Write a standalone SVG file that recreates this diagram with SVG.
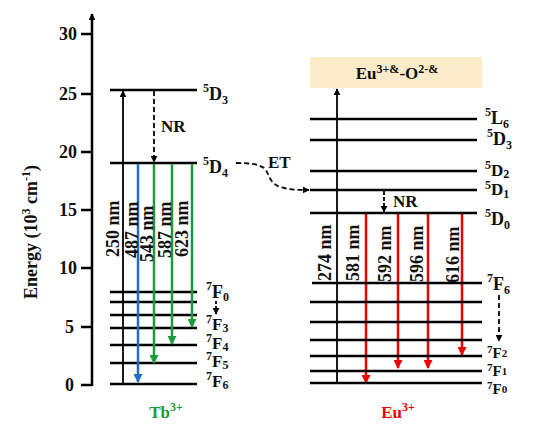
<svg xmlns="http://www.w3.org/2000/svg" width="553" height="437" viewBox="0 0 553 437">
<style>
text{font-family:"Liberation Serif","Times New Roman",serif;font-weight:bold;fill:#111}
.t{font-size:18px}
.s{font-size:12px}
.rot{font-size:18px}
.lv{stroke:#000;stroke-width:2.5;fill:none}
.ax{stroke:#000;stroke-width:2.5;fill:none}
.ex{stroke:#000;stroke-width:1.8;fill:none}
.dash{stroke:#000;stroke-width:1.8;fill:none;stroke-dasharray:5 3}
.bl{stroke:#1f6fc4;stroke-width:2.5;fill:none}
.gr{stroke:#1c9b3c;stroke-width:2.5;fill:none}
.rd{stroke:#ee0000;stroke-width:2.5;fill:none}
</style>
<defs>
<marker id="ak" viewBox="0 0 10 10" refX="9" refY="5" markerWidth="7" markerHeight="7" markerUnits="userSpaceOnUse" orient="auto"><path d="M0,0L10,5L0,10z" fill="#000"/></marker>
<marker id="ab" viewBox="0 0 10 10" refX="9" refY="5" markerWidth="10" markerHeight="9" markerUnits="userSpaceOnUse" orient="auto"><path d="M0,0L10,5L0,10z" fill="#1f6fc4"/></marker>
<marker id="ag" viewBox="0 0 10 10" refX="9" refY="5" markerWidth="10" markerHeight="9" markerUnits="userSpaceOnUse" orient="auto"><path d="M0,0L10,5L0,10z" fill="#1c9b3c"/></marker>
<marker id="ar" viewBox="0 0 10 10" refX="9" refY="5" markerWidth="10" markerHeight="9" markerUnits="userSpaceOnUse" orient="auto"><path d="M0,0L10,5L0,10z" fill="#ee0000"/></marker>
</defs>
<rect width="553" height="437" fill="#fff"/>

<g id="axis">
<line class="ax" x1="92" y1="386" x2="92" y2="14" marker-end="url(#ak)"/>
<path class="ax" d="M81,34H92M81,94H92M81,152H92M81,210H92M81,268H92M81,327H92M81,385H92"/>
<g class="t" text-anchor="end">
<text x="77" y="40">30</text><text x="77" y="100">25</text><text x="77" y="158">20</text><text x="77" y="216">15</text><text x="77" y="274">10</text><text x="74" y="333">5</text><text x="74" y="391">0</text>
</g>
<text class="t" transform="translate(37,232) rotate(-90)" text-anchor="middle">Energy (10<tspan class="s" dy="-7">3</tspan><tspan dy="7"> cm</tspan><tspan class="s" dy="-7">-1</tspan><tspan dy="7">)</tspan></text>
</g>

<g id="tb-levels">
<path class="lv" d="M110,90H197M110,163H197M110,292H197M110,302H197M110,315H197M110,328H197M110,345H197M110,363H197M110,384H197"/>
</g>
<g id="tb-labels" class="t">
<text x="203" y="100"><tspan class="s" dy="-8">5</tspan><tspan dy="8">D</tspan><tspan class="s" dy="4">3</tspan></text>
<text x="203" y="173"><tspan class="s" dy="-8">5</tspan><tspan dy="8">D</tspan><tspan class="s" dy="4">4</tspan></text>
<text x="206" y="298"><tspan class="s" dy="-8">7</tspan><tspan dy="8">F</tspan><tspan class="s" dy="3">0</tspan></text>
<text x="206" y="330" style="font-size:17px"><tspan class="s" dy="-7">7</tspan><tspan dy="7">F</tspan><tspan class="s" dy="2">3</tspan></text>
<text x="206" y="349" style="font-size:17px"><tspan class="s" dy="-7">7</tspan><tspan dy="7">F</tspan><tspan class="s" dy="2">4</tspan></text>
<text x="206" y="367" style="font-size:17px"><tspan class="s" dy="-7">7</tspan><tspan dy="7">F</tspan><tspan class="s" dy="2">5</tspan></text>
<text x="206" y="387" style="font-size:17px"><tspan class="s" dy="-7">7</tspan><tspan dy="7">F</tspan><tspan class="s" dy="2">6</tspan></text>
<text x="161" y="132" style="font-size:17px">NR</text>
<text x="166" y="418" text-anchor="middle" style="fill:#1c9b3c;font-size:17px">Tb<tspan class="s" dy="-7" style="fill:#1c9b3c">3+</tspan></text>
</g>

<g id="connectors">
<line class="ex" x1="123" y1="384" x2="123" y2="91" marker-end="url(#ak)"/>
<line class="dash" x1="154" y1="91" x2="154" y2="162" marker-end="url(#ak)"/>
<line class="dash" x1="216" y1="301" x2="216" y2="314" marker-end="url(#ak)" style="stroke-dasharray:3 2"/>
<line class="bl" x1="138" y1="164" x2="138" y2="382" marker-end="url(#ab)"/>
<line class="gr" x1="154" y1="164" x2="154" y2="363" marker-end="url(#ag)"/>
<line class="gr" x1="172" y1="164" x2="172" y2="344" marker-end="url(#ag)"/>
<line class="gr" x1="192" y1="164" x2="192" y2="327" marker-end="url(#ag)"/>
<path class="dash" d="M236,163C250,163 258,164 264,168C270,174 268,182 280,187C290,190 300,190 309,190" marker-end="url(#ak)"/>
<line class="ex" x1="337" y1="383" x2="337" y2="89" marker-end="url(#ak)"/>
<line class="dash" x1="384" y1="191" x2="384" y2="212" marker-end="url(#ak)" style="stroke-dasharray:4 2"/>
<line class="dash" x1="499" y1="295" x2="499" y2="341" marker-end="url(#ak)"/>
<line class="rd" x1="366" y1="214" x2="366" y2="383" marker-end="url(#ar)"/>
<line class="rd" x1="398" y1="214" x2="398" y2="368" marker-end="url(#ar)"/>
<line class="rd" x1="428" y1="214" x2="428" y2="368" marker-end="url(#ar)"/>
<line class="rd" x1="462" y1="214" x2="462" y2="355" marker-end="url(#ar)"/>
</g>

<g id="tb-wavelengths" class="rot">
<text transform="translate(119,257) rotate(-90)">250 nm</text>
<text transform="translate(138,258) rotate(-90)">487 nm</text>
<text transform="translate(153,262) rotate(-90)">543 nm</text>
<text transform="translate(171,258) rotate(-90)">587 nm</text>
<text transform="translate(188,257) rotate(-90)">623 nm</text>
</g>

<g id="eu-box">
<rect x="310" y="57" width="172" height="31" fill="#fcebc8"/>
<text x="397" y="79" text-anchor="middle" style="font-size:17px">Eu<tspan style="font-size:12px" dy="-6">3+&amp;</tspan><tspan dy="6">-O</tspan><tspan style="font-size:12px" dy="-6">2-&amp;</tspan></text>
</g>

<g id="eu-levels">
<path class="lv" d="M310,119H477M310,140H477M310,171H477M310,190H477M310,213H477M312,283H482M310,302H482M310,322H482M310,340H482M310,356H482M310,371H482M310,383H482"/>
</g>
<g id="eu-labels" class="t">
<text x="485" y="124"><tspan class="s" dy="-8">5</tspan><tspan dy="8">L</tspan><tspan class="s" dy="4">6</tspan></text>
<text x="487" y="145"><tspan class="s" dy="-8">5</tspan><tspan dy="8">D</tspan><tspan class="s" dy="4">3</tspan></text>
<text x="485" y="176" style="font-size:17px"><tspan class="s" dy="-7">5</tspan><tspan dy="7">D</tspan><tspan class="s" dy="2">2</tspan></text>
<text x="485" y="195" style="font-size:17px"><tspan class="s" dy="-6">5</tspan><tspan dy="6">D</tspan><tspan class="s" dy="3">1</tspan></text>
<text x="485" y="225"><tspan class="s" dy="-8">5</tspan><tspan dy="8">D</tspan><tspan class="s" dy="4">0</tspan></text>
<text x="487" y="290"><tspan class="s" dy="-8">7</tspan><tspan dy="8">F</tspan><tspan class="s" dy="4">6</tspan></text>
<text x="487" y="358" style="font-size:15px"><tspan style="font-size:11px" dy="-5">7</tspan><tspan dy="5">F</tspan><tspan style="font-size:11px" dy="-1">2</tspan></text>
<text x="487" y="376" style="font-size:15px"><tspan style="font-size:11px" dy="-5">7</tspan><tspan dy="5">F</tspan><tspan style="font-size:11px" dy="-1">1</tspan></text>
<text x="487" y="394" style="font-size:15px"><tspan style="font-size:11px" dy="-5">7</tspan><tspan dy="5">F</tspan><tspan style="font-size:11px" dy="-1">0</tspan></text>
<text x="393" y="207" style="font-size:17px">NR</text>
<text x="268" y="168" style="font-size:17px">ET</text>
<text x="398" y="418" text-anchor="middle" style="fill:#ee0000;font-size:17px">Eu<tspan class="s" dy="-7" style="fill:#ee0000">3+</tspan></text>
</g>

<g id="eu-wavelengths" class="rot">
<text transform="translate(331,281) rotate(-90)">274 nm</text>
<text transform="translate(359,281) rotate(-90)">581 nm</text>
<text transform="translate(391,282) rotate(-90)">592 nm</text>
<text transform="translate(423,282) rotate(-90)">596 nm</text>
<text transform="translate(459,283) rotate(-90)">616 nm</text>
</g>
</svg>
